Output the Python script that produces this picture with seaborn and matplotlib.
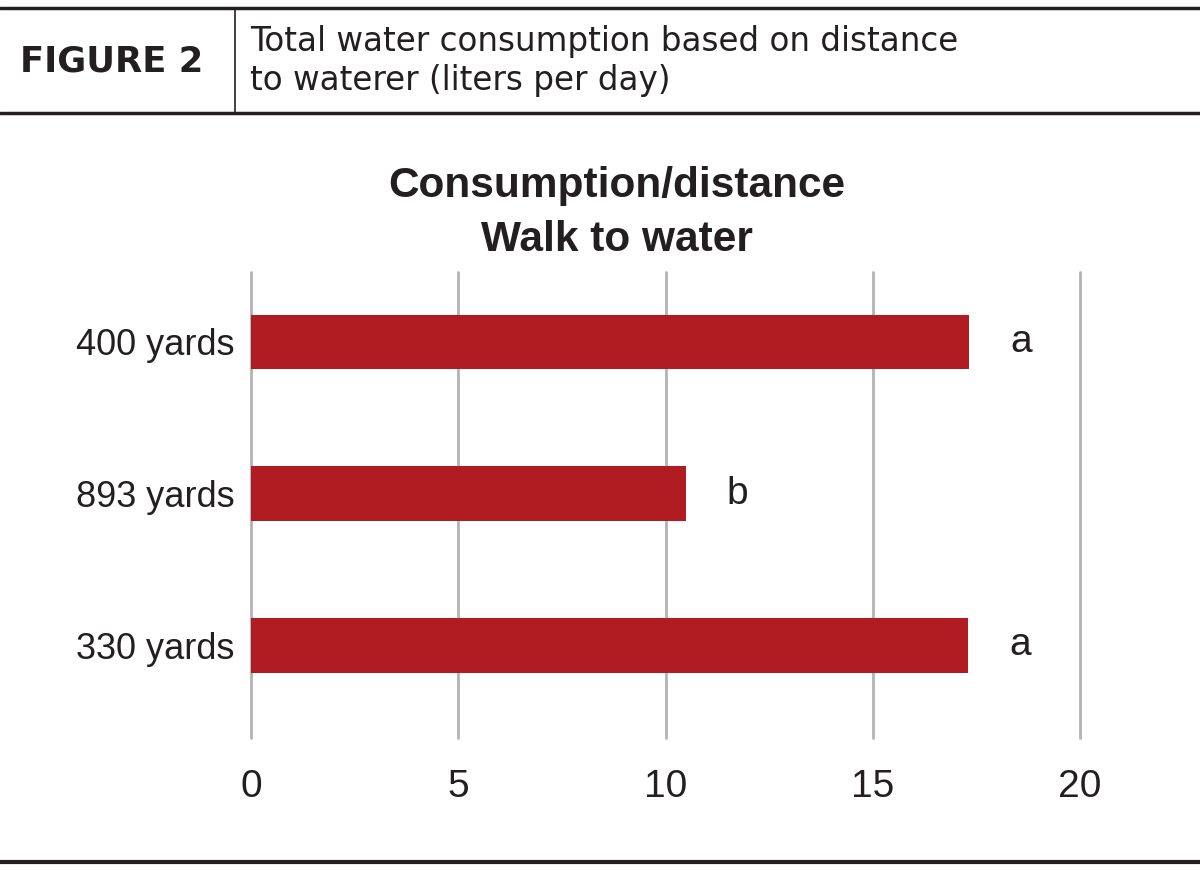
import matplotlib
matplotlib.use("Agg")
import matplotlib.pyplot as plt
from matplotlib.lines import Line2D
import seaborn as sns
import pandas as pd
from matplotlib import font_manager as fm

categories = ["400 yards", "893 yards", "330 yards"]
values = [17.32, 10.49, 17.30]
letters = ["a", "b", "a"]
xticks = [0, 5, 10, 15, 20]

sns.set_theme(style="white")
names = {f.name for f in fm.fontManager.ttflist}
narrow = "Liberation Sans Narrow" if "Liberation Sans Narrow" in names else "Liberation Sans"
plt.rcParams['font.family'] = [narrow, 'DejaVu Sans']

TXT = "#231F20"
RED = "#B01C22"
GRID = "#B3B3B3"

W, H = 1200, 871
fig = plt.figure(figsize=(12, 8.71), dpi=100)
ax = fig.add_axes([251 / W, 1 - 738 / H, (1080 - 251) / W, (738 - 272) / H])

df = pd.DataFrame({"cat": categories, "val": values})
sns.barplot(data=df, x="val", y="cat", orient="h", color=RED, width=0.36,
            saturation=1, ax=ax, order=categories, linewidth=0)

ax.set_xlim(0, 20)
ax.set_ylim(2.61, -0.46)
ax.set_xticks(xticks)
ax.set_xticklabels([str(t) for t in xticks], fontsize=28, color=TXT, family=narrow)
ax.tick_params(axis="x", length=0, pad=22)
ax.tick_params(axis="y", length=0, pad=12)
for lab in ax.get_yticklabels():
    lab.set_fontsize(26)
    lab.set_color(TXT)
    lab.set_family(narrow)
ax.set_xlabel("")
ax.set_ylabel("")
for s in ax.spines.values():
    s.set_visible(False)
ax.xaxis.grid(True, color=GRID, linewidth=2)
ax.yaxis.grid(False)
ax.set_axisbelow(True)
for gl in ax.xaxis.get_gridlines():
    gl.set_clip_on(False)

for i, (v, l) in enumerate(zip(values, letters)):
    ax.text(v + 1.25, i, l, ha="center", va="center", fontsize=28,
            color=TXT, family="Liberation Sans")

fig.text(617 / W, 1 - 213 / H, "Consumption/distance\nWalk to water", ha="center",
         va="center", fontsize=30.5, fontweight="bold", color=TXT, family=narrow,
         linespacing=1.45)

# header
fig.add_artist(Line2D([0, 1], [1 - 8 / H, 1 - 8 / H], color=TXT, linewidth=2.5,
                      transform=fig.transFigure))
fig.add_artist(Line2D([0, 1], [1 - 113 / H, 1 - 113 / H], color=TXT, linewidth=2.5,
                      transform=fig.transFigure))
fig.add_artist(Line2D([235 / W, 235 / W], [1 - 8 / H, 1 - 113 / H], color=TXT,
                      linewidth=1.2, transform=fig.transFigure))
fig.add_artist(Line2D([0, 1], [1 - 862 / H, 1 - 862 / H], color=TXT, linewidth=3,
                      transform=fig.transFigure))

fig.text(112 / W, 1 - 61 / H, "FIGURE 2",
         ha="center", va="center", fontsize=25.5, fontweight="bold", color=TXT,
         family=["DejaVu Sans"])
fig.text(250 / W, 1 - 61 / H, "Total water consumption based on distance\nto waterer (liters per day)",
         ha="left", va="center", fontsize=23.5, color=TXT, family=["DejaVu Sans"],
         linespacing=1.2)

fig.savefig("out.png", dpi=100)
